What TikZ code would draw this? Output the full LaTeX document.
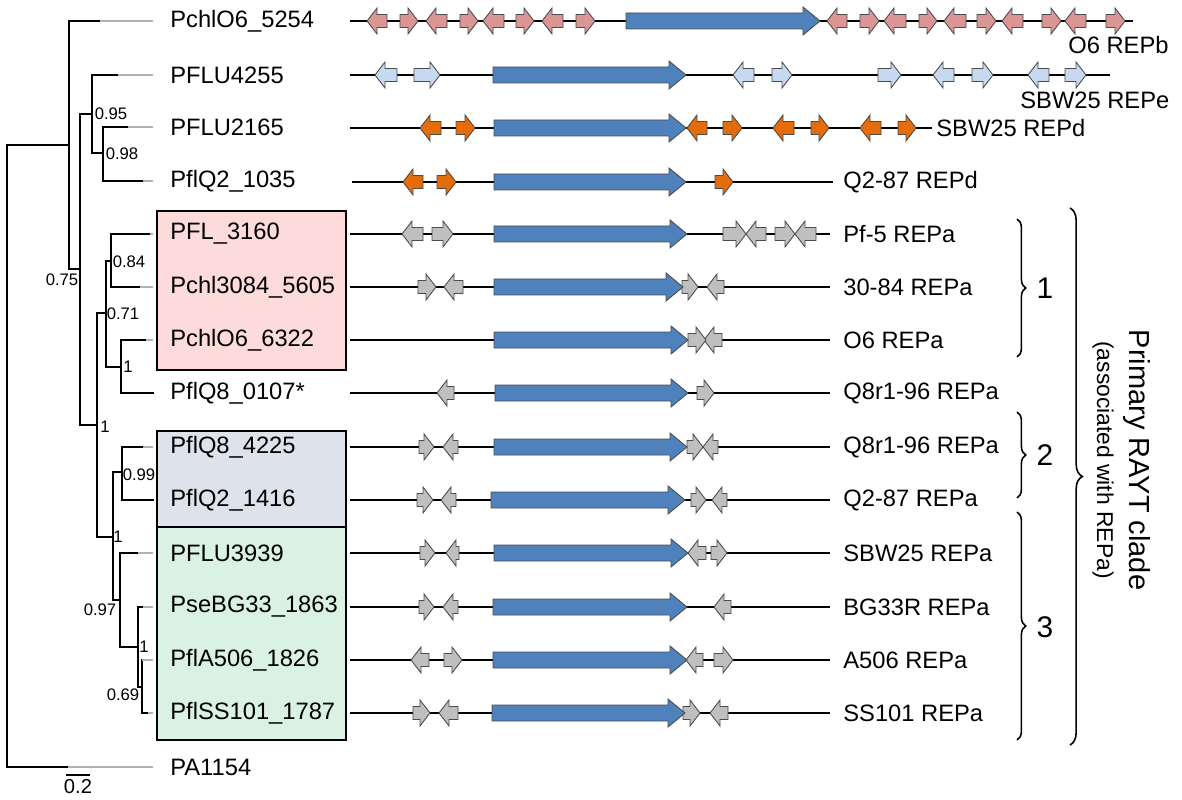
\documentclass[tikz,border=0pt]{standalone}
\usepackage{fontspec}
\setmainfont{Liberation Sans}
\usepackage{tikz}
\usetikzlibrary{decorations.pathreplacing}
\definecolor{repb}{RGB}{217,150,148}
\definecolor{repe}{RGB}{198,217,241}
\definecolor{repd}{RGB}{228,108,10}
\definecolor{repa}{RGB}{191,191,191}
\definecolor{raytblue}{RGB}{79,129,189}
\definecolor{boxone}{RGB}{253,219,219}
\definecolor{boxtwo}{RGB}{222,226,234}
\definecolor{boxthree}{RGB}{218,242,228}

% small gene arrows: style, x start, x end, row y
\newcommand{\geneR}[4]{\draw[#1] (#2,{#4-6.5}) -- ({#3-10},{#4-6.5}) -- ({#3-10},{#4-13}) -- (#3,#4) -- ({#3-10},{#4+13}) -- ({#3-10},{#4+6.5}) -- (#2,{#4+6.5}) -- cycle;}
\newcommand{\geneL}[4]{\draw[#1] (#3,{#4-6.5}) -- ({#2+10},{#4-6.5}) -- ({#2+10},{#4-13}) -- (#2,#4) -- ({#2+10},{#4+13}) -- ({#2+10},{#4+6.5}) -- (#3,{#4+6.5}) -- cycle;}
% the RAYT gene
\newcommand{\rayt}[3]{\draw[gene, fill=raytblue] (#1,{#3-8}) -- ({#2-17},{#3-8}) -- ({#2-17},{#3-14}) -- (#2,#3) -- ({#2-17},{#3+14}) -- ({#2-17},{#3+8}) -- (#1,{#3+8}) -- cycle;}
% tree leaf: x node, x end of black part, y
\newcommand{\leaf}[3]{\draw[br] (#1,#3) -- (#2,#3); \draw[tip] (#2,#3) -- (153,#3);}

\begin{document}
\begin{tikzpicture}[x=0.02cm, y=-0.02cm,
  every node/.style={font=\fontsize{13.5}{16}\selectfont, inner sep=0pt},
  br/.style={line width=1.3pt, line cap=rect},
  tip/.style={line width=1.3pt, black!30},
  bs/.style={font=\fontsize{9.5}{11}\selectfont},
  gene/.style={draw=black!70, line width=0.5pt},
  chrom/.style={line width=1pt},
  tax/.style={anchor=west},
  rep/.style={anchor=west},
  clbox/.style={draw, line width=1.3pt},
  grp/.style={decorate, decoration={brace, amplitude=5pt}, line width=0.9pt},
  grpnum/.style={font=\fontsize{17}{19}\selectfont},
]
\useasboundingbox (0,0) rectangle (1182,800);
% clade boxes
\fill[boxone] (157,211) rectangle (346,370);
\fill[boxtwo] (157,431) rectangle (346,527);
\fill[boxthree] (157,527) rectangle (346,740);
\draw[clbox] (157,211) rectangle (346,370);
\draw[clbox] (157,431) rectangle (346,740);
\draw[line width=1.3pt] (157,527) -- (346,527);

% tree
\draw[br] (7,145) -- (7,767) (7,145) -- (69,145);
\leaf{7}{68}{767}
\draw[br] (69,21) -- (69,269) (69,269) -- (80,269) (80,114) -- (80,425);
\leaf{69}{100}{21}
\draw[br] (80,114) -- (92,114) (92,75) -- (92,153) (92,153) -- (103,153) (103,127) -- (103,181);
\leaf{92}{118}{75}
\leaf{103}{128}{127}
\leaf{103}{143}{181}
\draw[br] (80,425) -- (97,425) (97,313) -- (97,537);
\draw[br] (97,313) -- (106,313) (106,261) -- (106,367) (106,261) -- (111,261) (111,234) -- (111,287);
\leaf{111}{150}{234}
\leaf{111}{140}{287}
\draw[br] (106,367) -- (121,367) (121,340) -- (121,393);
\leaf{121}{146}{340}
\leaf{121}{153}{393}
\draw[br] (97,537) -- (113,537) (113,472) -- (113,600) (113,472) -- (122,472) (122,447) -- (122,500);
\leaf{122}{143}{447}
\leaf{122}{153}{500}
\draw[br] (113,600) -- (120,600) (120,553) -- (120,647);
\leaf{120}{138}{553}
\draw[br] (120,647) -- (138,647) (138,607) -- (138,687) (138,687) -- (142,687) (142,660) -- (142,713);
\leaf{138}{143}{607}
\leaf{142}{142}{660}
\leaf{142}{148}{713}

% support values
\node[bs] at (62,280) {0.75};
\node[bs] at (111,114) {0.95};
\node[bs] at (122,154) {0.98};
\node[bs] at (129,262) {0.84};
\node[bs] at (123,314) {0.71};
\node[bs] at (128,367) {1};
\node[bs] at (105,427) {1};
\node[bs] at (139,475) {0.99};
\node[bs] at (118,537) {1};
\node[bs] at (100,610) {0.97};
\node[bs] at (144,647) {1};
\node[bs] at (123,695) {0.69};

% scale bar
\draw[line width=1pt] (66,775) -- (90,775);
\node[bs, font=\fontsize{11.5}{12}\selectfont] (scale) at (78,787) {0.2};

% taxa
\node[tax] (t1) at (170,21) {PchlO6\_5254};
\node[tax] (t2) at (170,75) {PFLU4255};
\node[tax] (t3) at (170,127) {PFLU2165};
\node[tax] (t4) at (170,181) {PflQ2\_1035};
\node[tax] (t5) at (170,234) {PFL\_3160};
\node[tax] (t6) at (170,287) {Pchl3084\_5605};
\node[tax] (t7) at (170,340) {PchlO6\_6322};
\node[tax] (t8) at (170,393) {PflQ8\_0107*};
\node[tax] (t9) at (170,447) {PflQ8\_4225};
\node[tax] (t10) at (170,500) {PflQ2\_1416};
\node[tax] (t11) at (170,553) {PFLU3939};
\node[tax] (t12) at (170,607) {PseBG33\_1863};
\node[tax] (t13) at (170,660) {PflA506\_1826};
\node[tax] (t14) at (170,713) {PflSS101\_1787};
\node[tax] (t15) at (170,767) {PA1154};

% chromosome lines
\draw[chrom] (350,21) -- (1133,21);
\draw[chrom] (350,75) -- (1110,75);
\draw[chrom] (350,128) -- (932,128);
\draw[chrom] (352,182) -- (833,182);
\foreach \y in {234,287,340,393,447,500,553,607,660,713}
  \draw[chrom] (350,\y) -- (830,\y);

% row 1, REPb
\foreach \a/\b in {367/387,426/447,483/504,542/563,827/847,884/906,944/966,1002/1023,1065/1086}
  {\geneL{gene, fill=repb}{\a}{\b}{21}}
\foreach \a/\b in {400/418,460/478,516/534,576/595,860/879,919/937,977/996,1042/1061,1106/1125}
  {\geneR{gene, fill=repb}{\a}{\b}{21}}
\rayt{626}{820}{21}
% row 2, REPe
\foreach \a/\b in {375/397,733/754,933/954,1028/1049}
  {\geneL{gene, fill=repe}{\a}{\b}{75}}
\foreach \a/\b in {414/440,772/792,878/901,972/993,1065/1086}
  {\geneR{gene, fill=repe}{\a}{\b}{75}}
\rayt{493}{686}{75}
% rows 3-4, REPd
\foreach \a/\b in {420/441,687/707,773/794,860/881}
  {\geneL{gene, fill=repd}{\a}{\b}{128}}
\foreach \a/\b in {456/475,723/742,811/829,898/916}
  {\geneR{gene, fill=repd}{\a}{\b}{128}}
\rayt{494}{686}{128}
\geneL{gene, fill=repd}{403}{423}{182}
\foreach \a/\b in {437/456,715/733}
  {\geneR{gene, fill=repd}{\a}{\b}{182}}
\rayt{494}{686}{182}
% rows 5-14, REPa
\foreach \a/\b/\y in {402/423/234,746/766/234,795/816/234,444/463/287,707/724/287,704/722/340,437/454/393,443/458/447,703/718/447,441/456/500,712/727/500,446/459/553,688/706/553,443/458/607,714/731/607,411/429/660,686/703/660,439/458/713,710/728/713}
  {\geneL{gene, fill=repa}{\a}{\b}{\y}}
\foreach \a/\b/\y in {432/453/234,723/746/234,775/795/234,418/436/287,682/698/287,688/706/340,697/714/393,419/434/447,687/703/447,417/433/500,691/706/500,420/435/553,711/727/553,419/434/607,444/462/660,714/733/660,413/430/713,683/700/713}
  {\geneR{gene, fill=repa}{\a}{\b}{\y}}
\foreach \a/\b/\y in {494/687/234,494/683/287,494/688/340,495/688/393,494/687/447,491/685/500,494/688/553,493/687/607,493/687/660,492/685/713}
  {\rayt{\a}{\b}{\y}}

% REP labels
\node[rep] (r1) at (1068,45) {O6 REPb};
\node[rep] (r2) at (1020,100) {SBW25 REPe};
\node[rep] (r3) at (936,128) {SBW25 REPd};
\node[rep] (r4) at (843,182) {Q2-87 REPd};
\node[rep] (r5) at (843,234) {Pf-5 REPa};
\node[rep] (r6) at (843,287) {30-84 REPa};
\node[rep] (r7) at (843,340) {O6 REPa};
\node[rep] (r8) at (843,393) {Q8r1-96 REPa};
\node[rep] (r9) at (843,447) {Q8r1-96 REPa};
\node[rep] (r10) at (843,500) {Q2-87 REPa};
\node[rep] (r11) at (843,553) {SBW25 REPa};
\node[rep] (r12) at (843,607) {BG33R REPa};
\node[rep] (r13) at (843,660) {A506 REPa};
\node[rep] (r14) at (843,713) {SS101 REPa};

% groups
\draw[grp] (1017,219) -- (1017,357);
\draw[grp] (1017,412) -- (1017,498);
\draw[grp] (1017,512) -- (1017,740);
\node[grpnum] (g1) at (1045,288) {1};
\node[grpnum] (g2) at (1045,455) {2};
\node[grpnum] (g3) at (1045,627) {3};
\draw[grp, decoration={amplitude=7pt}] (1070,208) -- (1070,745);
\node[rotate=-90, font=\fontsize{16.5}{18}\selectfont] (clade) at (1137,460) {Primary RAYT clade};
\node[rotate=-90, font=\fontsize{13}{14}\selectfont] (assoc) at (1103,460) {(associated with REPa)};
\end{tikzpicture}
\end{document}
